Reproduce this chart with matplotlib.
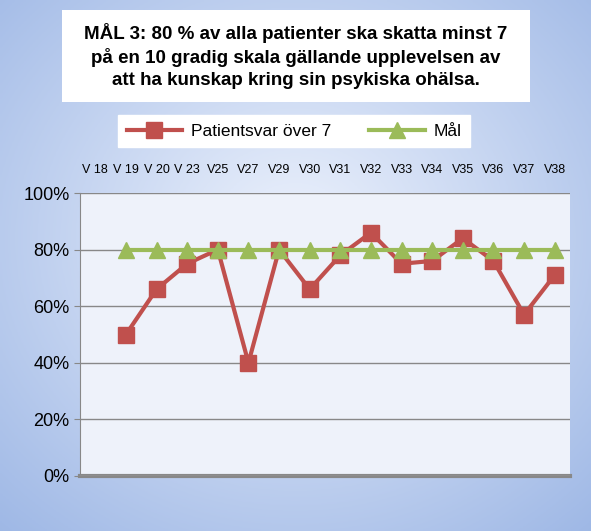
import matplotlib
matplotlib.use("Agg")
import matplotlib.pyplot as plt
import numpy as np
from matplotlib.patches import Rectangle

categories = ["V 18","V 19","V 20","V 23","V25","V27","V29","V30","V31","V32","V33","V34","V35","V36","V37","V38"]
patient = [None,50,66,75,80,40,80,66,78,86,75,76,84,76,57,71]
goal = [None] + [80]*15

plt.rcParams['font.family'] = ['Liberation Sans', 'DejaVu Sans']
fig = plt.figure(figsize=(5.91,5.31), dpi=100)

bg = fig.add_axes([0,0,1,1], zorder=-10)
yy = np.linspace(0,1,200)[:,None]
xx = np.linspace(0,1,200)[None,:]
r = np.sqrt((xx-0.5)**2 + (yy-0.45)**2)
val = np.clip(r/0.75,0,1)
c1 = np.array([0.93,0.95,0.99]); c2 = np.array([0.62,0.72,0.90])
img = c1[None,None,:]*(1-val[...,None]) + c2[None,None,:]*val[...,None]
bg.imshow(img, aspect='auto', extent=[0,1,0,1])
bg.axis('off')

ax = fig.add_axes([80/591, 55/531, 490/591, 283/531])
x = np.arange(len(categories))
py = np.array([np.nan if v is None else v for v in patient], float)
gy = np.array([np.nan if v is None else v for v in goal], float)
ax.plot(x, py, color='#c0504d', lw=3, marker='s', ms=11, label='Patientsvar över 7', zorder=3)
ax.plot(x, gy, color='#9bbb59', lw=3, marker='^', ms=12, label='Mål', zorder=4)
ax.set_xlim(-0.5, len(categories)-0.5)
ax.set_ylim(0,100)
ax.set_yticks([0,20,40,60,80,100])
ax.set_yticklabels([f"{v}%" for v in [0,20,40,60,80,100]], fontsize=13)
ax.set_xticks(x)
ax.set_xticklabels(categories, fontsize=9)
ax.xaxis.tick_top()
ax.tick_params(axis='x', length=0, pad=12)
ax.tick_params(axis='y', length=4, color='#888888')
ax.yaxis.grid(True, color='#888888', lw=1)
ax.set_axisbelow(True)
ax.set_facecolor('#eef2fa')
for s in ['top','right']:
    ax.spines[s].set_visible(False)
ax.spines['left'].set_color('#888888')
ax.spines['bottom'].set_color('#888888')
ax.spines['bottom'].set_linewidth(3)
ax.axhline(0, color='white', lw=0.8, zorder=5)

fig.patches.append(Rectangle((62/591, 1-102/531), 468/591, 92/531, transform=fig.transFigure,
                             facecolor='white', edgecolor='none', zorder=1))
fig.text(296/591, 1-56/531, "MÅL 3: 80 % av alla patienter ska skatta minst 7\npå en 10 gradig skala gällande upplevelsen av\natt ha kunskap kring sin psykiska ohälsa.",
         ha='center', va='center', fontsize=13.5, fontweight='bold', linespacing=1.35)

fig.legend(loc='center', bbox_to_anchor=(294/591, 1-131/531), ncol=2, fontsize=12.5,
           frameon=True, fancybox=False, edgecolor='white', framealpha=1,
           handlelength=3.2, columnspacing=2.2, borderpad=0.5, borderaxespad=0, handletextpad=0.5)
fig.savefig('out.png', dpi=100)
